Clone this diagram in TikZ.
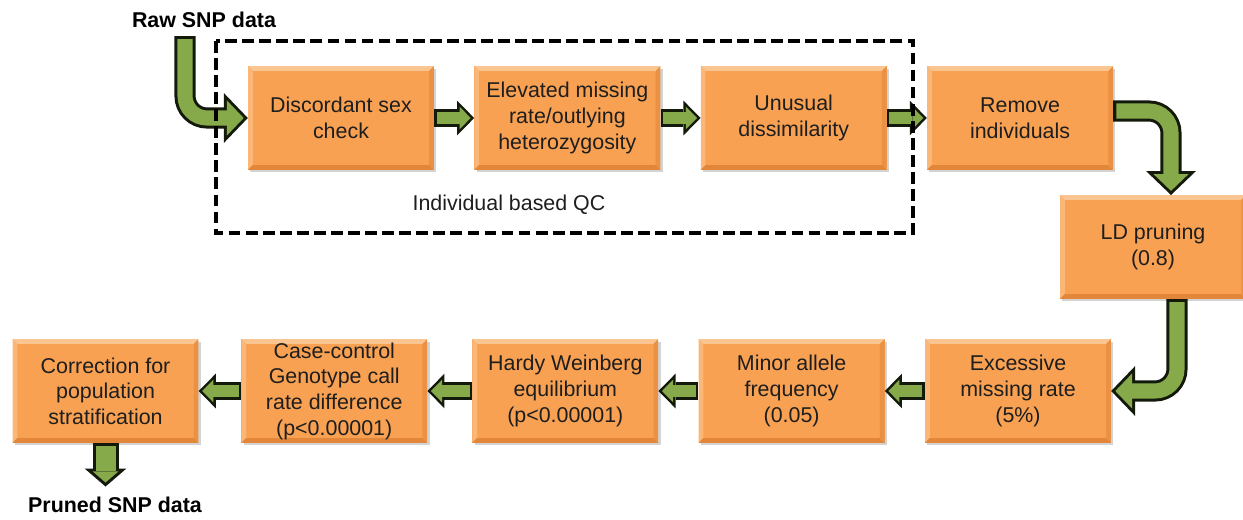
\documentclass[tikz,border=0pt]{standalone}
\usepackage{fontspec}
\setmainfont{Liberation Sans}
\usepackage{tikz}
\usetikzlibrary{
  calc,
  positioning,
  arrows.meta,
  shadows
}
\definecolor{boxfill}{HTML}{F8A152}
\definecolor{boxlight}{HTML}{FBC591}
\definecolor{boxdark}{HTML}{E2863A}
\definecolor{pipegreen}{HTML}{86A94A}
\definecolor{pipeedge}{HTML}{141A0B}
\definecolor{ink}{HTML}{1E1E1E}
\tikzset{
  qcbox/.style={rectangle, fill=boxfill, minimum width=158pt, minimum height=88pt,
    inner sep=2pt, align=center, text=ink,
    font=\fontsize{18.2pt}{21.8pt}\selectfont,
    drop shadow={shadow xshift=2pt, shadow yshift=-2pt, opacity=0.35},
    path picture={
      \coordinate (nw) at (path picture bounding box.north west);
      \coordinate (ne) at (path picture bounding box.north east);
      \coordinate (sw) at (path picture bounding box.south west);
      \coordinate (se) at (path picture bounding box.south east);
      \fill[boxlight] (nw) -- (ne) -- ([shift={(-4pt,-4pt)}]ne) -- ([shift={(4pt,-4pt)}]nw) -- cycle;
      \fill[boxlight!60!boxfill] (nw) -- ([shift={(4pt,-4pt)}]nw) -- ([shift={(4pt,4pt)}]sw) -- (sw) -- cycle;
      \fill[boxdark] (sw) -- ([shift={(4pt,4pt)}]sw) -- ([shift={(-4pt,4pt)}]se) -- (se) -- cycle;
      \fill[boxdark!60!boxfill] (se) -- ([shift={(-4pt,4pt)}]se) -- ([shift={(-4pt,-4pt)}]ne) -- (ne) -- cycle;
    }},
  title/.style={font=\bfseries\fontsize{18.2pt}{21.8pt}\selectfont, inner sep=0pt},
  pipe/.style={draw=pipeedge, line width=15.3pt,
    -{Triangle[length=14.5pt, width=29.5pt, line width=0pt]},
    postaction={draw=pipegreen, line width=11pt,
      -{Triangle[length=9.4pt, width=19.2pt, line width=0pt]},
      shorten >=3pt, shorten <=2.1pt}},
  bigpipe/.style={draw=pipeedge, line width=17.9pt, rounded corners=18.7pt,
    -{Triangle[length=20.4pt, width=42.5pt, line width=0pt]},
    postaction={draw=pipegreen, line width=12.8pt,
      -{Triangle[length=14.3pt, width=29.8pt, line width=0pt]},
      shorten >=3.5pt, shorten <=2.6pt}},
  stubpipe/.style={draw=pipeedge, line width=22.1pt,
    -{Triangle[length=15.3pt, width=35.5pt, line width=0pt]},
    postaction={draw=pipegreen, line width=17pt,
      -{Triangle[length=9.4pt, width=21.8pt, line width=0pt]},
      shorten >=3.4pt, shorten <=2.6pt}},
  qcframe/.style={draw=black, line width=2.8pt, dash pattern=on 10pt off 4.5pt}
}

\begin{document}
\begin{tikzpicture}[x=0.85pt, y=-0.85pt, node distance=34pt]
  \useasboundingbox (0,0) rectangle (1243,519);

  % first row
  \node[qcbox] (disc) at (341,118) {Discordant sex\\check};
  \node[qcbox, right=of disc] (elev) {Elevated missing\\rate/outlying\\heterozygosity};
  \node[qcbox, right=of elev] (unusual) {Unusual\\dissimilarity};
  \node[qcbox, right=of unusual] (remove) {Remove\\individuals};
  \node[qcbox] (ldprune) at (1153,247) {LD pruning\\(0.8)};

  % second row
  \node[qcbox] (excess) at (1018,391) {Excessive\\missing rate\\(5\%)};
  \node[qcbox, left=of excess] (minor) {Minor allele\\frequency\\(0.05)};
  \node[qcbox, left=of minor] (hardy) {Hardy Weinberg\\equilibrium\\(p<0.00001)};
  \node[qcbox, left=38pt of hardy] (casectrl) {Case-control\\Genotype call\\rate difference\\(p<0.00001)};
  \node[qcbox, left=36pt of casectrl] (corr) {Correction for\\population\\stratification};

  % in and out
  \node[title] (raw) at (204,20) {Raw SNP data};
  \node[title] (pruned) at (115,505) {Pruned SNP data};
  \coordinate (rawtop) at (185,36);
  \coordinate[below=37pt of corr.south] (prunedin);

  % arrows
  \draw[bigpipe] (rawtop) |- (disc.west);
  \draw[pipe] (disc) -- (elev);
  \draw[pipe] (elev) -- (unusual);
  \draw[pipe] (unusual) -- (remove);
  \draw[bigpipe] ($(remove.east)+(0,-7)$) -| ($(ldprune.north)+(18,0)$);
  \draw[bigpipe] ($(ldprune.south)+(24,0)$) |- (excess.east);
  \draw[pipe] (excess) -- (minor);
  \draw[pipe] (minor) -- (hardy);
  \draw[pipe] (hardy) -- (casectrl);
  \draw[pipe] (casectrl) -- (corr);
  \draw[stubpipe] (corr.south) -- (prunedin);

  % individual based QC
  \draw[qcframe] (216,41) rectangle (913,233);
  \node[text=ink, font=\fontsize{18.2pt}{21.8pt}\selectfont] (qclabel) at (509,205) {Individual based QC};
\end{tikzpicture}
\end{document}
